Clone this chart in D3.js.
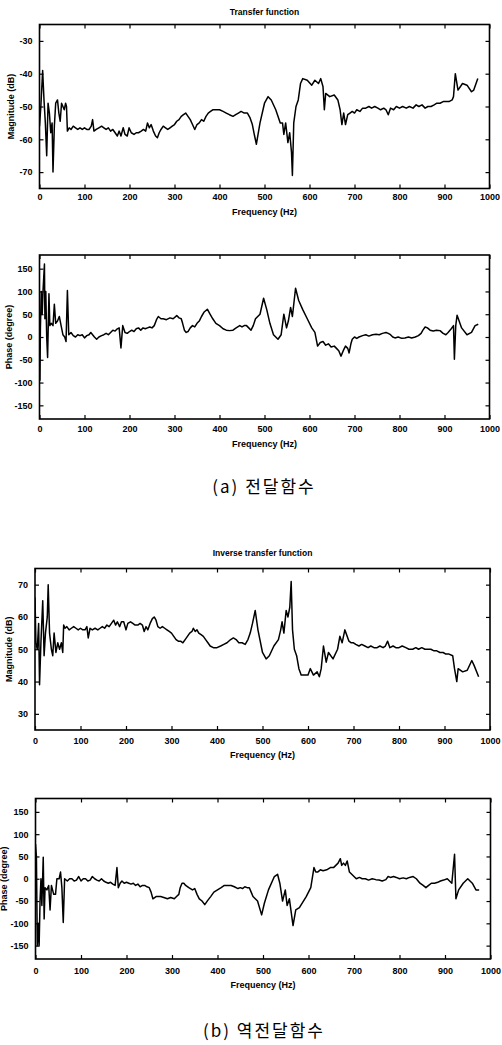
<!DOCTYPE html>
<html>
<head>
<meta charset="utf-8">
<script src="https://cdn.jsdelivr.net/npm/d3@7"></script>
<style>
  body { margin: 0; background: #fff; }
  svg { display: block; }
  .tick text { font-family: "Liberation Sans", Arial, sans-serif; font-weight: bold; font-size: 9px; fill: #000; }
</style>
</head>
<body>
<div id="chart"></div>
<script>
// Frequency ticks shared by all four plots
const freqTicks = [0, 100, 200, 300, 400, 500, 600, 700, 800, 900, 1000];
const magTicksTf = [-70, -60, -50, -40, -30];
const magTicksInv = [30, 40, 50, 60, 70];
const phaseTicks = [-150, -100, -50, 0, 50, 100, 150];

// [frequency (Hz), magnitude (dB)] - transfer function
const tfMag = [[0,-56],[3,-50],[7,-39],[10,-48],[13,-55],[16,-65],[19,-49],[22,-52],[25,-58],[28,-55],
  [30,-70],[33,-56],[36,-49],[40,-48],[43,-52],[46,-54.5],[49,-49],[52,-50],[55,-51],[58,-49],
  [60,-50],[62,-57.5],[66,-56.5],[70,-57],[75,-56],[80,-56.5],[85,-57],[90,-56.5],[95,-57],[100,-56.5],
  [105,-57],[110,-57],[115,-56],[118,-54],[121,-57.5],[126,-57],[132,-56.5],[138,-56],[143,-56.5],[148,-57],
  [153,-56.5],[158,-57.5],[163,-57],[168,-58],[173,-59],[177,-57.5],[181,-59],[186,-56.5],[190,-58.5],[195,-59],
  [199,-56.5],[204,-58],[210,-58.5],[215,-58],[220,-58],[226,-57.5],[231,-57],[236,-57.5],[240,-55],[244,-56.5],
  [248,-55.5],[253,-57.5],[258,-59],[262,-59.5],[266,-58],[270,-57],[275,-56],[280,-56.5],[285,-57],[290,-56.5],
  [295,-56],[300,-55.5],[305,-54.5],[310,-54],[315,-53],[320,-52.5],[325,-52],[330,-53],[335,-54],[340,-55.5],
  [345,-57],[350,-55.5],[355,-55],[360,-54],[365,-54.5],[370,-53],[375,-52],[380,-51.5],[385,-51],[392,-51],
  [400,-51],[408,-51.5],[415,-52],[422,-52.5],[430,-53],[436,-52.5],[442,-52],[448,-51.5],[455,-52],[462,-52],
  [468,-53.5],[473,-55.5],[478,-59],[482,-61.5],[490,-55],[500,-49],[508,-47],[515,-48],[525,-51],[535,-55],
  [540,-55],[543,-58.5],[547,-55],[552,-61],[556,-58],[560,-64],[562,-71],[565,-55],[570,-50],[575,-48],
  [580,-43],[585,-41.5],[595,-42],[605,-43.5],[612,-42],[620,-43],[625,-41.5],[630,-44],[633,-51],[636,-46],
  [645,-47],[655,-46.5],[663,-48],[668,-51],[672,-55.5],[676,-52],[680,-55.5],[685,-52.5],[690,-52],[695,-51.5],
  [700,-52],[705,-51],[712,-51.5],[718,-50.5],[725,-50.5],[732,-50],[738,-50.5],[745,-50],[752,-50.5],[758,-51],
  [765,-50.5],[770,-51],[775,-52.5],[780,-50.5],[787,-51],[793,-50],[800,-50.5],[807,-50],[815,-50.5],[822,-50],
  [830,-50.5],[837,-49.5],[843,-50],[850,-49.5],[857,-50.5],[863,-50],[870,-50],[877,-49.5],[883,-49],[890,-49],
  [897,-48.5],[903,-48.5],[910,-48.5],[917,-48],[920,-47],[924,-40],[930,-45],[940,-43],[950,-43.5],[960,-45.5],
  [965,-45],[974,-41.5]];

// [frequency (Hz), phase (degree)] - transfer function
const tfPhase = [[0,0],[1,-95],[2,20],[4,100],[6,50],[8,105],[11,160],[12,40],[14,100],[16,0],
  [18,-45],[21,95],[23,25],[26,30],[30,25],[33,72],[36,30],[40,35],[44,45],[48,25],
  [52,5],[56,0],[59,-10],[62,102],[65,5],[70,10],[75,3],[80,0],[85,5],[90,3],
  [95,5],[100,-2],[105,3],[110,5],[114,10],[118,5],[122,0],[127,-5],[132,0],[138,3],
  [143,5],[148,8],[153,5],[158,10],[163,15],[168,13],[173,18],[177,20],[181,-24],[185,25],
  [190,10],[195,8],[200,12],[205,15],[210,12],[215,18],[220,20],[225,15],[230,20],[235,18],
  [240,20],[245,22],[250,20],[255,25],[260,38],[264,45],[270,40],[275,40],[282,38],[290,42],
  [297,40],[305,47],[310,42],[315,40],[318,30],[322,15],[326,10],[330,12],[335,20],[340,25],
  [345,22],[350,30],[355,35],[360,45],[366,55],[373,61],[379,50],[385,40],[392,30],[400,25],
  [408,18],[415,15],[422,14],[430,15],[437,20],[445,25],[450,22],[455,25],[460,25],[465,20],
  [470,15],[475,25],[480,40],[490,50],[498,85],[505,60],[512,30],[520,5],[530,-5],[537,5],
  [543,50],[549,20],[553,35],[558,65],[562,45],[569,107],[576,80],[585,60],[595,40],[605,20],
  [612,10],[618,-20],[624,-12],[630,-10],[636,-18],[642,-15],[648,-22],[655,-20],[660,-25],[665,-30],
  [670,-42],[675,-30],[680,-20],[685,-25],[688,-35],[692,-15],[695,-5],[700,0],[705,-3],[710,0],
  [718,3],[725,5],[732,2],[740,5],[748,6],[755,5],[762,8],[770,10],[775,8],[780,5],
  [785,0],[790,-2],[797,0],[805,-3],[812,-2],[820,0],[827,-2],[835,0],[842,3],[848,8],
  [852,15],[857,22],[862,20],[868,15],[875,13],[882,15],[890,14],[897,8],[903,5],[908,10],
  [915,18],[920,25],[922,-49],[925,25],[928,48],[938,20],[950,5],[960,10],[968,25],[975,28]];

// [frequency (Hz), magnitude (dB)] - inverse transfer function
const invMag = [[0,66],[2,52],[5,50],[8,58],[10,39],[13,52],[17,65],[20,48],[23,55],[27,60],
  [29,70],[32,55],[36,50],[39,48],[42,55],[46,49],[50,52],[54,50],[58,52],[61,49],
  [63,57.5],[66,56.5],[70,57],[75,56],[80,56.5],[85,57],[90,56.5],[95,56],[100,56.5],[105,56],
  [110,56],[114,57],[117,53.5],[121,56.5],[126,56],[132,56.5],[138,56],[143,56.5],[148,57],[153,56.5],
  [158,57.5],[163,57],[168,58],[173,59],[177,57.5],[181,58.5],[186,57],[190,58.5],[195,58.5],[200,56],
  [204,58],[210,58.5],[215,58],[220,57.5],[226,57.5],[231,58],[236,57.5],[240,55.5],[244,57],[248,56],
  [253,58],[258,59.5],[262,60],[266,59],[270,57],[275,56.5],[280,57],[285,56.5],[290,56],[295,55.5],
  [300,55],[305,54],[310,53],[315,52.5],[320,52.5],[325,52],[330,53],[335,54],[340,55],[345,55.5],
  [348,56.5],[352,55.5],[356,56],[360,55],[365,54.5],[370,54],[375,53],[380,52],[385,51],[392,50.5],
  [400,50.5],[408,51],[415,51.5],[422,52],[430,53],[436,53.5],[442,53],[448,52],[455,52],[462,51.5],
  [468,53],[473,55],[478,58],[484,62],[490,56],[500,49],[508,47],[515,48],[525,51],[535,53],
  [540,56],[543,58.5],[547,55],[552,62],[556,60],[560,63],[563,71],[566,56],[570,50],[575,48],
  [580,44],[585,42],[600,42],[605,44],[612,42],[620,43],[625,41.5],[629,44],[634,51],[640,46],
  [645,49],[655,47],[665,50],[670,54],[675,52],[681,56],[690,52.5],[695,52],[700,52],[705,51.5],
  [712,51],[718,51.5],[725,51],[732,50.5],[738,51],[745,50.5],[752,50.5],[758,51],[765,50.5],[770,51],
  [775,52.5],[780,50.5],[787,51],[793,50.5],[800,50.5],[807,51],[815,50.5],[822,50],[830,50],[837,50.5],
  [843,50],[850,50.5],[857,50],[863,50],[870,50],[877,49.5],[883,49.5],[890,49],[897,49],[903,48.5],
  [910,48.5],[918,48],[922,44],[927,40],[930,44],[940,43],[950,43.5],[960,46.5],[965,45],[975,41.5]];

// [frequency (Hz), phase (degree)] - inverse transfer function
const invPhase = [[0,78],[2,50],[4,-150],[6,-100],[8,-150],[10,-50],[12,0],[14,-60],[17,48],[19,-90],
  [21,-20],[25,-25],[29,-15],[32,-70],[35,-15],[40,-35],[44,-35],[47,0],[52,0],[55,15],
  [58,-20],[61,-98],[64,0],[70,-5],[75,0],[80,0],[85,-5],[90,-3],[95,5],[100,-5],
  [105,0],[110,0],[115,-5],[120,-3],[125,5],[130,0],[135,-3],[140,-5],[145,0],[150,-5],
  [155,-8],[160,-10],[165,-8],[170,-12],[175,-15],[179,25],[182,-20],[186,-10],[190,-5],[195,-10],
  [200,-8],[205,-10],[210,-12],[215,-10],[220,-15],[225,-12],[230,-18],[235,-15],[240,-15],[245,-18],
  [250,-20],[254,-30],[258,-45],[265,-40],[270,-40],[275,-40],[282,-42],[290,-45],[297,-42],[305,-45],
  [310,-40],[315,-35],[318,-20],[322,-10],[326,-10],[330,-15],[337,-20],[345,-25],[350,-22],[355,-35],
  [360,-45],[366,-50],[372,-58],[379,-48],[385,-40],[392,-30],[400,-25],[408,-20],[415,-15],[422,-15],
  [430,-15],[437,-18],[445,-22],[450,-20],[455,-22],[460,-18],[465,-20],[470,-20],[474,-30],[478,-40],
  [488,-50],[497,-81],[503,-55],[512,-25],[525,5],[532,10],[537,-10],[543,-50],[549,-25],[553,-60],
  [558,-45],[566,-105],[572,-70],[580,-65],[595,-40],[605,-20],[612,25],[616,15],[620,15],[626,20],
  [632,18],[640,20],[648,25],[655,25],[660,30],[665,35],[670,45],[673,30],[677,35],[681,30],
  [685,40],[690,15],[695,10],[700,5],[705,0],[712,3],[718,0],[725,0],[732,-3],[740,0],
  [748,-2],[755,-3],[762,-5],[770,-2],[775,5],[780,3],[787,5],[793,3],[800,0],[808,2],
  [815,0],[822,3],[830,5],[837,0],[845,-10],[852,-15],[858,-20],[864,-15],[870,-10],[877,-10],
  [884,-8],[890,-5],[897,-3],[905,0],[910,-5],[915,-10],[921,55],[924,-45],[930,-25],[940,-10],
  [950,0],[960,-10],[968,-25],[975,-25]];

const width = 502;
const height = 1045;
const font = '"Liberation Sans", Arial, sans-serif';

const svg = d3.create("svg")
    .attr("width", width)
    .attr("height", height);

// panel layout: box edges in page pixels
const panels = [
  { data: tfMag, yDomain: [-75, -25], yTicks: magTicksTf, box: [39.5, 24.5, 489.5, 188.5],
    title: "Transfer function", titleY: 12.5, ylabel: "Magnitude (dB)", ylabelX: 12,
    xTickY: 197, xlabelY: 213 },
  { data: tfPhase, yDomain: [-180, 180], yTicks: phaseTicks, box: [39.5, 255, 489.5, 419],
    ylabel: "Phase (degree)", ylabelX: 10, xTickY: 429, xlabelY: 444.5 },
  { data: invMag, yDomain: [25, 75], yTicks: magTicksInv, box: [35, 568.5, 490, 730],
    title: "Inverse transfer function", titleY: 554, ylabel: "Magnitude (dB)", ylabelX: 10,
    xTickY: 740.5, xlabelY: 756 },
  { data: invPhase, yDomain: [-180, 180], yTicks: phaseTicks, box: [35.5, 798.5, 490.5, 959],
    ylabel: "Phase (degree)", ylabelX: 4.5, xTickY: 971, xlabelY: 986 }
];

panels.forEach(p => {
  const [x0, y0, x1, y1] = p.box;
  const x = d3.scaleLinear().domain([0, 1000]).range([x0, x1]);
  const y = d3.scaleLinear().domain(p.yDomain).range([y1, y0]);
  const g = svg.append("g");

  // inward ticks on all four sides
  const bottom = g.append("g").attr("transform", `translate(0,${y1})`)
      .call(d3.axisBottom(x).tickValues(freqTicks).tickSize(-4).tickPadding(0).tickFormat(d => String(d)));
  bottom.selectAll(".tick text").attr("y", p.xTickY - y1).attr("dy", "0.35em");
  g.append("g").attr("transform", `translate(0,${y0})`)
      .call(d3.axisTop(x).tickValues(freqTicks).tickSize(-4).tickFormat(""));
  g.append("g").attr("transform", `translate(${x0},0)`)
      .call(d3.axisLeft(y).tickValues(p.yTicks).tickSize(-4).tickPadding(7).tickFormat(d => String(d)));
  g.append("g").attr("transform", `translate(${x1},0)`)
      .call(d3.axisRight(y).tickValues(p.yTicks).tickSize(-4).tickFormat(""));
  g.selectAll(".domain").remove();
  g.selectAll(".tick line").attr("stroke", "#000").attr("stroke-width", 1.2);

  g.append("rect")
      .attr("x", x0).attr("y", y0)
      .attr("width", x1 - x0).attr("height", y1 - y0)
      .attr("fill", "none").attr("stroke", "#000").attr("stroke-width", 1.6);

  const clipId = "clip" + Math.round(y0);
  svg.append("clipPath").attr("id", clipId).append("rect")
      .attr("x", x0).attr("y", y0).attr("width", x1 - x0).attr("height", y1 - y0);

  g.append("path")
      .datum(p.data)
      .attr("clip-path", `url(#${clipId})`)
      .attr("fill", "none")
      .attr("stroke", "#000")
      .attr("stroke-width", 1.5)
      .attr("stroke-linejoin", "round")
      .attr("d", d3.line().x(d => x(d[0])).y(d => y(d[1])));

  if (p.title) {
    g.append("text")
        .attr("x", (x0 + x1) / 2).attr("y", p.titleY)
        .attr("text-anchor", "middle").attr("dominant-baseline", "middle")
        .attr("font-family", font).attr("font-weight", "bold").attr("font-size", 8.5)
        .text(p.title);
  }

  g.append("text")
      .attr("x", (x0 + x1) / 2).attr("y", p.xlabelY)
      .attr("text-anchor", "middle").attr("dominant-baseline", "middle")
      .attr("font-family", font).attr("font-weight", "bold").attr("font-size", 9)
      .text("Frequency (Hz)");

  g.append("text")
      .attr("transform", `translate(${p.ylabelX},${(y0 + y1) / 2}) rotate(-90)`)
      .attr("text-anchor", "middle").attr("dominant-baseline", "middle")
      .attr("font-family", font).attr("font-weight", "bold").attr("font-size", 9)
      .text(p.ylabel);
});

// figure captions
const captions = [
  { text: "(a) 전달함수", y: 488 },
  { text: "(b) 역전달함수", y: 1032 }
];
svg.selectAll("text.caption")
  .data(captions)
  .join("text")
    .attr("class", "caption")
    .attr("x", 264).attr("y", d => d.y)
    .attr("text-anchor", "middle").attr("dominant-baseline", "middle")
    .attr("font-family", '"Noto Sans CJK KR", sans-serif')
    .attr("font-size", 17).attr("letter-spacing", 2)
    .text(d => d.text);

document.getElementById("chart").appendChild(svg.node());
</script>
</body>
</html>
